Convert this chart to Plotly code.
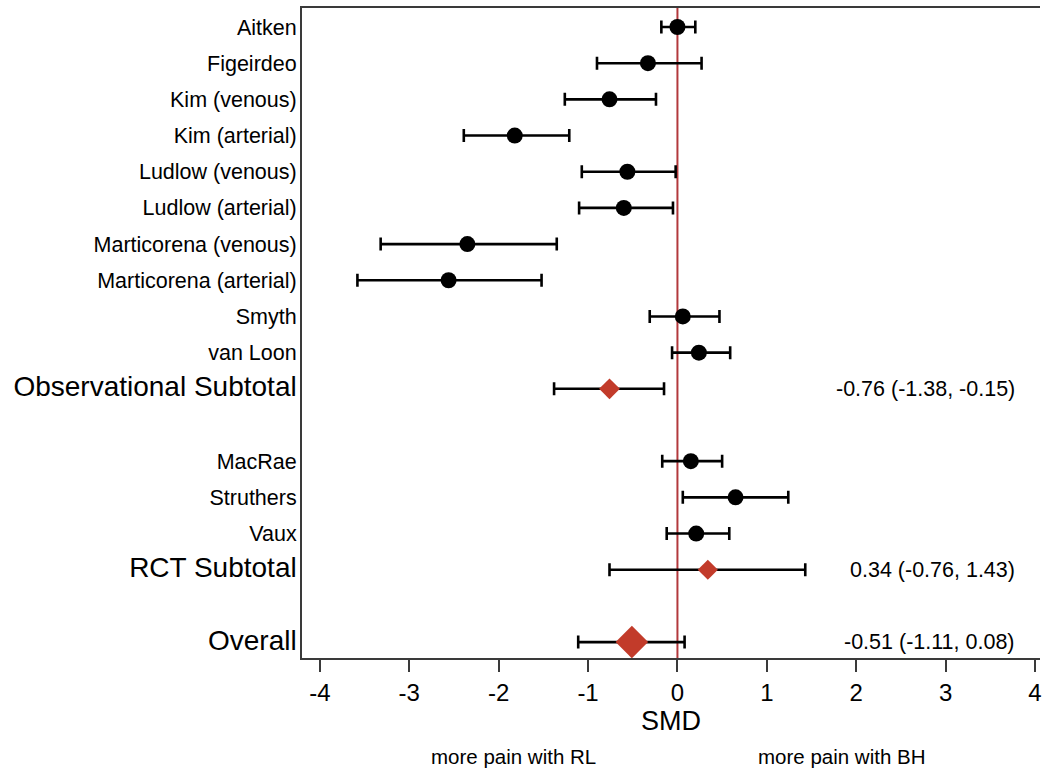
import plotly.graph_objects as go

# ---- data ----
studies = ["Aitken", "Figeirdeo", "Kim (venous)", "Kim (arterial)", "Ludlow (venous)",
           "Ludlow (arterial)", "Marticorena (venous)", "Marticorena (arterial)", "Smyth",
           "van Loon", "MacRae", "Struthers", "Vaux"]
study_smd = [0.00, -0.33, -0.76, -1.82, -0.56, -0.60, -2.35, -2.56, 0.06, 0.24, 0.15, 0.65, 0.21]
study_lo = [-0.18, -0.90, -1.26, -2.39, -1.07, -1.10, -3.32, -3.58, -0.31, -0.06, -0.17, 0.06, -0.12]
study_hi = [0.20, 0.27, -0.24, -1.21, -0.02, -0.05, -1.35, -1.52, 0.47, 0.59, 0.50, 1.24, 0.58]

summaries = ["Observational Subtotal", "RCT Subtotal", "Overall"]
summary_smd = [-0.76, 0.34, -0.51]
summary_lo = [-1.38, -0.76, -1.11]
summary_hi = [-0.15, 1.43, 0.08]

# display order of rows ("" = blank spacer row)
row_order = ["Aitken", "Figeirdeo", "Kim (venous)", "Kim (arterial)", "Ludlow (venous)",
             "Ludlow (arterial)", "Marticorena (venous)", "Marticorena (arterial)", "Smyth",
             "van Loon", "Observational Subtotal", "", "MacRae", "Struthers", "Vaux",
             "RCT Subtotal", "", "Overall"]

x_ticks = [-4, -3, -2, -1, 0, 1, 2, 3, 4]
x_title = "SMD"
left_note = "more pain with RL"
right_note = "more pain with BH"

# ---- style ----
FONT = "Liberation Sans, Arial, Helvetica, sans-serif"
RED = "#C23B2A"
LINE_RED = "#B2383C"
AXIS = "#3a3a3a"
summary_sizes = [16, 15.5, 25]

row_of = {name: i + 1 for i, name in enumerate(row_order) if name}
study_y = [row_of[s] for s in studies]
summary_y = [row_of[s] for s in summaries]

fig = go.Figure()

fig.add_trace(go.Scatter(
    x=study_smd, y=study_y, mode="markers",
    marker=dict(symbol="circle", size=16, color="black", opacity=1),
    error_x=dict(type="data", symmetric=False,
                 array=[h - m for h, m in zip(study_hi, study_smd)],
                 arrayminus=[m - l for l, m in zip(study_lo, study_smd)],
                 color="black", thickness=2.6, width=6.5),
    showlegend=False, hoverinfo="skip"))

fig.add_trace(go.Scatter(
    x=summary_smd, y=summary_y, mode="markers",
    marker=dict(symbol="diamond", size=summary_sizes, color=RED, opacity=1,
                line=dict(width=0)),
    error_x=dict(type="data", symmetric=False,
                 array=[h - m for h, m in zip(summary_hi, summary_smd)],
                 arrayminus=[m - l for l, m in zip(summary_lo, summary_smd)],
                 color="black", thickness=2.6, width=6.5),
    showlegend=False, hoverinfo="skip"))

# reference line at 0
fig.add_shape(type="line", x0=0, x1=0, y0=0, y1=1, xref="x", yref="paper",
              line=dict(color=LINE_RED, width=2), layer="below")

# summary stat labels
for name, m, l, h in zip(summaries, summary_smd, summary_lo, summary_hi):
    fig.add_annotation(x=3.8, y=row_of[name], xref="x", yref="y",
                       text=f"{m:.2f} ({l:.2f}, {h:.2f})", showarrow=False,
                       xanchor="right", yanchor="middle",
                       font=dict(family=FONT, size=21.5, color="black"))

fig.add_annotation(x=-1.83, y=-0.152, xref="x", yref="paper", text=left_note,
                   showarrow=False, xanchor="center", yanchor="middle",
                   font=dict(family=FONT, size=20.5, color="black"))
fig.add_annotation(x=1.83, y=-0.152, xref="x", yref="paper", text=right_note,
                   showarrow=False, xanchor="center", yanchor="middle",
                   font=dict(family=FONT, size=20.5, color="black"))

tickvals = [i + 1 for i, n in enumerate(row_order) if n]
ticktext = []
for n in row_order:
    if not n:
        continue
    if n in summaries:
        ticktext.append(f'<span style="font-size:28px">{n}</span>')
    else:
        ticktext.append(n)

fig.update_layout(
    width=1042, height=773,
    margin=dict(l=302, r=0, t=8, b=115),
    paper_bgcolor="white", plot_bgcolor="white",
    font=dict(family=FONT, color="black"),
    xaxis=dict(range=[-4.2, 4.056], tickvals=x_ticks, ticktext=[str(v) for v in x_ticks],
               showgrid=False, zeroline=False, showline=True, linecolor=AXIS, linewidth=2,
               mirror=True, ticks="outside", ticklen=12, tickwidth=2, tickcolor=AXIS,
               ticklabeloverflow="allow",
               tickfont=dict(size=24, family=FONT, color="black"),
               title=dict(text=x_title, font=dict(size=27, family=FONT, color="black"), standoff=6)),
    yaxis=dict(range=[18.44, 0.475], tickmode="array", tickvals=tickvals, ticktext=ticktext,
               showgrid=False, zeroline=False, showline=True, linecolor=AXIS, linewidth=2,
               ticks="", ticklabelstandoff=-1,
               tickfont=dict(size=21.5, family=FONT, color="black")),
)

fig.write_html("out.html", config={"displayModeBar": False},
               post_script="document.body.style.margin='0';document.body.style.overflow='hidden';")
